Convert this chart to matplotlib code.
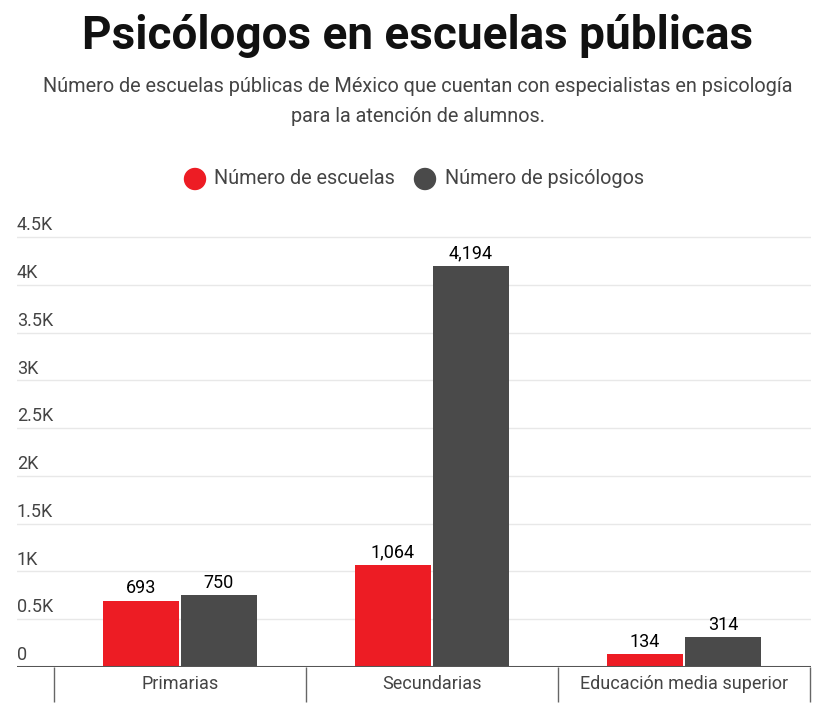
import matplotlib
matplotlib.use("Agg")
import matplotlib.pyplot as plt
import numpy as np

# Data
categories = ["Primarias", "Secundarias", "Educación media superior"]
escuelas = [693, 1064, 134]
psicologos = [750, 4194, 314]
yticks = [0, 500, 1000, 1500, 2000, 2500, 3000, 3500, 4000, 4500]
ytick_labels = ["0", "0.5K", "1K", "1.5K", "2K", "2.5K", "3K", "3.5K", "4K", "4.5K"]

RED = "#ED1C24"
GRAY = "#4A4A4A"
TXT = "#444444"

plt.rcParams["font.family"] = ["Roboto", "DejaVu Sans"]

W, H = 837, 716
fig = plt.figure(figsize=(W / 100, H / 100), dpi=100)

# axes placement in pixels
left, right, bottom = 17, 811, 667
ymax = 4550
top = bottom - 430 / 4500 * ymax
ax = fig.add_axes([left / W, 1 - bottom / H, (right - left) / W, (bottom - top) / H])

x = np.arange(len(categories))
width = 0.30
off = 0.155
b1 = ax.bar(x - off, escuelas, width, color=RED, zorder=3)
b2 = ax.bar(x + off, psicologos, width, color=GRAY, zorder=3)

for bars, vals in [(b1, escuelas), (b2, psicologos)]:
    for rect, v in zip(bars, vals):
        ax.annotate(f"{v:,}", (rect.get_x() + rect.get_width() / 2, v),
                    xytext=(0, 2.5), textcoords="offset points",
                    ha="center", va="bottom", fontsize=13, color="black")

ax.set_xlim(-0.6455, 2.503)
ax.set_ylim(0, ymax)

# grid
for yt in yticks[1:]:
    ax.axhline(yt, color="#e8e8e8", lw=1, zorder=1)
ax.axhline(0, color="#555555", lw=2.2, zorder=4)

# y labels sit above gridlines at left
ax.set_yticks([])
for yt, lab in zip(yticks, ytick_labels):
    ax.annotate(lab, (0, yt), xycoords=ax.get_yaxis_transform(),
                xytext=(0, 2), textcoords="offset points",
                ha="left", va="bottom", fontsize=13, color=TXT)

# category separators and labels
ax.set_xticks([-0.5, 0.5, 1.5, 2.5])
ax.set_xticklabels([])
ax.tick_params(axis="x", which="major", length=25, width=1, color="#666666", direction="out")
ax.set_xticks(x, minor=True)
ax.set_xticklabels(categories, minor=True)
ax.tick_params(axis="x", which="minor", length=0, pad=6, labelsize=13, labelcolor=TXT)

for s in ax.spines.values():
    s.set_visible(False)

# title, subtitle, legend
fig.text(418 / W, 1 - 36 / H, "Psicólogos en escuelas públicas", ha="center", va="center",
         fontsize=33, fontweight="bold", color="#111111")
fig.text(418 / W, 1 - 87 / H, "Número de escuelas públicas de México que cuentan con especialistas en psicología",
         ha="center", va="center", fontsize=14.3, color=TXT)
fig.text(418 / W, 1 - 116 / H, "para la atención de alumnos.",
         ha="center", va="center", fontsize=14.3, color=TXT)

ly = 1 - 179 / H
fig.patches.append(matplotlib.patches.Ellipse((195 / W, ly), 21 / W, 21 / H, color=RED,
                                              transform=fig.transFigure, figure=fig))
fig.text(214 / W, ly, "Número de escuelas", ha="left", va="center", fontsize=14.3, color=TXT)
fig.patches.append(matplotlib.patches.Ellipse((425 / W, ly), 21 / W, 21 / H, color=GRAY,
                                              transform=fig.transFigure, figure=fig))
fig.text(445 / W, ly, "Número de psicólogos", ha="left", va="center", fontsize=14.3, color=TXT)

fig.savefig("out.png", dpi=100, facecolor="white")
